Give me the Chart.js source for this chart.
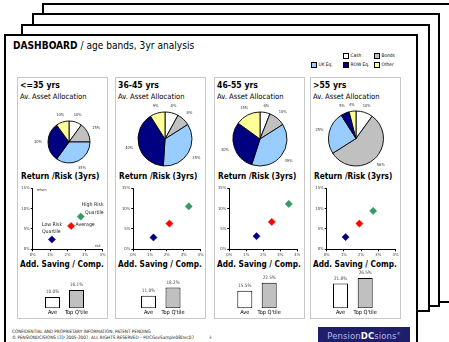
<!DOCTYPE html>
<html>
<head>
<meta charset="utf-8">
<script src="https://cdn.jsdelivr.net/npm/chart.js@4/dist/chart.umd.min.js"></script>
<style>
  html, body { margin: 0; padding: 0; background: #fff; }
  body { width: 449px; height: 342px; overflow: hidden; position: relative;
         font-family: "DejaVu Sans Condensed", "DejaVu Sans", sans-serif; color: #000; }
  .page { position: absolute; background: #fff; border: 2px solid #000; box-sizing: border-box; }
  .panel { position: absolute; border: 1px solid #c8c8c8; box-sizing: border-box; background: #fff; }
  .txt { position: absolute; white-space: nowrap; }
  .lg-box { position: absolute; width: 6px; height: 6px; border: 1px solid #000; box-sizing: border-box; }
  canvas { position: absolute; }
  .logo { position: absolute; left: 318px; top: 327px; width: 92px; height: 20px; background: #1e1e6a;
          color: #b8b8ee; font-family: "DejaVu Sans", sans-serif; font-size: 8.5px; line-height: 14px;
          text-align: center; letter-spacing: 0.1px; }
  .logo b { color: #fff; font-weight: bold; }
  .logo sup { font-size: 4px; }
</style>
</head>
<body>
<script>
// ---- data ----
const ageBands = ['<=35 yrs', '36-45 yrs', '46-55 yrs', '>55 yrs'];
const assetClasses = ['Cash', 'Bonds', 'UK Eq.', 'ROW Eq.', 'Other'];

const allocUpTo35 = [10, 15, 35, 30, 10];
const alloc36to45 = [8, 8, 35, 40, 9];
const alloc46to55 = [6, 10, 39, 30, 15];
const allocOver55 = [10, 56, 25, 5, 4];

const quartiles = ['Low Risk Quartile', 'Average', 'High Risk Quartile'];
const riskUpTo35 = [1.1, 2.2, 2.75];
const returnUpTo35 = [2.4, 5.7, 8.0];
const risk36to45 = [1.2, 2.15, 3.3];
const return36to45 = [2.9, 6.3, 10.5];
const risk46to55 = [1.6, 2.5, 3.5];
const return46to55 = [3.2, 6.7, 11.1];
const riskOver55 = [1.1, 1.9, 2.7];
const returnOver55 = [3.0, 6.3, 9.4];
const riskTicks = [0, 1, 2, 3, 4];
const returnTicks = [0, 5, 10, 15];

const savingCats = ['Ave', "Top Q'tile"];
const savingUpTo35 = [10.0, 16.1];
const saving36to45 = [11.0, 18.2];
const saving46to55 = [15.5, 22.5];
const savingOver55 = [21.8, 26.5];
const savingMax = 30;

// ---- styling ----
const FONT = '"DejaVu Sans Condensed", "DejaVu Sans", sans-serif';
Chart.defaults.font.family = FONT;
const assetColors = ['#ffffff', '#c0c0c0', '#99ccff', '#000080', '#ffff99'];
const quartileColors = ['#000080', '#ff0000', '#339966'];
const savingColors = ['#ffffff', '#c0c0c0'];

const allocations = [allocUpTo35, alloc36to45, alloc46to55, allocOver55];
const risks = [riskUpTo35, risk36to45, risk46to55, riskOver55];
const returns = [returnUpTo35, return36to45, return46to55, returnOver55];
const savings = [savingUpTo35, saving36to45, saving46to55, savingOver55];

// ---- layout ----
const PANEL_LEFT = [17, 115, 214, 310];
const PANEL_W = 91;
const PIE = [
  { cx: 69, cy: 142, r: 21 },
  { cx: 165, cy: 139, r: 27 },
  { cx: 260, cy: 139, r: 27 },
  { cx: 356, cy: 138.5, r: 27.5 }
];
const SCAT = [
  { l: 32.7, r: 102.7 },
  { l: 133.3, r: 200.7 },
  { l: 229.3, r: 297.3 },
  { l: 326.7, r: 396.7 }
];
const SCAT_TOP = 188, SCAT_BOTTOM = 249.3;
const BAR_CENTERS = [[52.5, 76.5], [148.5, 173], [244.8, 269.2], [340.5, 365.2]];
const BAR_TOP = 274.1, BAR_BOTTOM = 308.3, BAR_W = 15;
const LABEL_PLACE = [
  { dx: -10, dy: -15, align: 'left' },
  { dx: 4.5, dy: -1, align: 'left' },
  { dx: 23, dy: -11.7, align: 'right' }
];
const LEGEND_POS = [[343, 53], [374, 53], [311, 62], [343, 62], [374, 62]];

// ---- helpers ----
function el(tag, cls, css, html) {
  const e = document.createElement(tag);
  if (cls) e.className = cls;
  if (css) e.style.cssText = css;
  if (html !== undefined) e.innerHTML = html;
  document.body.appendChild(e);
  return e;
}
function text(str, x, yc, size, extra) {
  const e = el('div', 'txt', `left:${x}px;top:${yc - size * 0.7}px;font-size:${size}px;line-height:${size * 1.4}px;${extra || ''}`);
  e.textContent = str;
  return e;
}
function makeCanvas(x, y, w, h) {
  const c = el('canvas', '', `left:${x}px;top:${y}px;width:${w}px;height:${h}px`);
  c.width = w; c.height = h;
  return c;
}
const zeroPad = s => { s.paddingLeft = 0; s.paddingRight = 0; s.paddingTop = 0; s.paddingBottom = 0; };

// ---- stacked pages ----
el('div', 'page', 'left:42px;top:3px;width:412px;height:300px');
el('div', 'page', 'left:32px;top:13px;width:408px;height:294px');
el('div', 'page', 'left:21px;top:24px;width:409px;height:288px');
el('div', 'page', 'left:4px;top:34px;width:414px;height:330px');

// ---- title ----
const title = el('div', 'txt', 'left:13px;top:40px;font-size:10.1px;line-height:12px;');
title.innerHTML = '<b>DASHBOARD</b> / age bands, 3yr analysis';

// ---- legend ----
assetClasses.forEach((name, k) => {
  const [x, y] = LEGEND_POS[k];
  el('div', 'lg-box', `left:${x}px;top:${y}px;background:${assetColors[k]}`);
  text(name, x + 7.5, y + 3, 4.8);
});

// ---- plugins ----
const pieLabels = {
  id: 'pieLabels',
  afterDatasetsDraw(chart) {
    const ctx = chart.ctx;
    const meta = chart.getDatasetMeta(0);
    const vals = chart.data.datasets[0].data;
    ctx.save();
    ctx.font = `4px ${FONT}`;
    ctx.fillStyle = '#333';
    ctx.textAlign = 'center';
    ctx.textBaseline = 'middle';
    meta.data.forEach((arc, k) => {
      const mid = (arc.startAngle + arc.endAngle) / 2;
      const c = Math.cos(mid), s = Math.sin(mid);
      const d = arc.outerRadius + 6 + 4 * Math.abs(c);
      ctx.fillText(vals[k] + '%', arc.x + c * d, arc.y + s * d);
    });
    ctx.restore();
  }
};

const pointLabels = {
  id: 'pointLabels',
  afterDatasetsDraw(chart) {
    const ctx = chart.ctx;
    ctx.save();
    ctx.font = `5.2px ${FONT}`;
    ctx.fillStyle = '#222';
    ctx.textBaseline = 'middle';
    chart.data.datasets.forEach((ds, j) => {
      const pt = chart.getDatasetMeta(j).data[0];
      const p = LABEL_PLACE[j];
      const words = ds.label.split(' ');
      const lines = words.length > 2 ? [words.slice(0, -1).join(' '), words[words.length - 1]] : [ds.label];
      ctx.textAlign = p.align;
      lines.forEach((ln, n) => ctx.fillText(ln, pt.x + p.dx, pt.y + p.dy + n * 7.4));
    });
    // axis notes
    const a = chart.chartArea;
    ctx.font = `3.6px ${FONT}`;
    ctx.fillStyle = '#333';
    ctx.textAlign = 'left';
    ctx.fillText('return', a.left + 4, a.top + 2.5);
    ctx.textAlign = 'right';
    ctx.fillText('risk', a.right - 2, a.bottom - 3.5);
    ctx.restore();
  }
};

const barValues = {
  id: 'barValues',
  afterDatasetsDraw(chart) {
    const ctx = chart.ctx;
    const meta = chart.getDatasetMeta(0);
    const vals = chart.data.datasets[0].data;
    ctx.save();
    ctx.font = `4.6px ${FONT}`;
    ctx.fillStyle = '#444';
    ctx.textAlign = 'center';
    ctx.textBaseline = 'middle';
    meta.data.forEach((bar, k) => ctx.fillText(vals[k].toFixed(1) + '%', bar.x, bar.y - 5));
    ctx.restore();
  }
};

// ---- charts ----
function pieChart(i) {
  const g = PIE[i];
  const L = PANEL_LEFT[i] + 1, T = 103, W = PANEL_W - 2, H = 73;
  new Chart(makeCanvas(L, T, W, H), {
    type: 'pie',
    data: {
      labels: assetClasses,
      datasets: [{ data: allocations[i], backgroundColor: assetColors, borderColor: '#000', borderWidth: 0.9, radius: g.r }]
    },
    options: {
      responsive: false, animation: false, events: [],
      layout: { padding: { left: g.cx - g.r - L, right: L + W - g.cx - g.r, top: g.cy - g.r - T, bottom: T + H - g.cy - g.r } },
      plugins: { legend: { display: false }, tooltip: { enabled: false } }
    },
    plugins: [pieLabels]
  });
}

function scatterChart(i) {
  const a = SCAT[i];
  const L = PANEL_LEFT[i] + 1, T = 183, W = PANEL_W - 2, H = 78;
  const axisCommon = {
    grid: { drawOnChartArea: false, tickLength: 2, color: '#000', lineWidth: 1 },
    border: { color: '#000', width: 1 }
  };
  new Chart(makeCanvas(L, T, W, H), {
    type: 'scatter',
    data: {
      datasets: quartiles.map((q, j) => ({
        label: q,
        data: [{ x: risks[i][j], y: returns[i][j] }],
        pointStyle: 'rectRot', pointRadius: 3.6,
        backgroundColor: quartileColors[j], borderColor: quartileColors[j], borderWidth: 0.5
      }))
    },
    options: {
      responsive: false, animation: false, events: [],
      layout: { padding: { left: 0, bottom: 0, top: SCAT_TOP - T, right: L + W - a.r } },
      plugins: { legend: { display: false }, tooltip: { enabled: false } },
      scales: {
        x: Object.assign({
          type: 'linear', min: riskTicks[0], max: riskTicks[riskTicks.length - 1],
          afterBuildTicks: s => { s.ticks = riskTicks.map(v => ({ value: v })); },
          ticks: { callback: v => v + '%', font: { size: 4.2 }, color: '#333', padding: 1, maxRotation: 0, autoSkip: false },
          afterFit: s => { s.height = T + H - SCAT_BOTTOM; zeroPad(s); }
        }, axisCommon),
        y: Object.assign({
          type: 'linear', min: returnTicks[0], max: returnTicks[returnTicks.length - 1],
          afterBuildTicks: s => { s.ticks = returnTicks.map(v => ({ value: v })); },
          ticks: { callback: v => v + '%', font: { size: 4.2 }, color: '#333', padding: 1, autoSkip: false },
          afterFit: s => { s.width = a.l - L; zeroPad(s); }
        }, axisCommon)
      }
    },
    plugins: i === 0 ? [pointLabels] : []
  });
}

function savingChart(i) {
  const [c1, c2] = BAR_CENTERS[i];
  const step = c2 - c1;
  const aL = c1 - step / 2, aR = c2 + step / 2;
  const L = PANEL_LEFT[i] + 1, T = 266, W = PANEL_W - 2, H = 52;
  new Chart(makeCanvas(L, T, W, H), {
    type: 'bar',
    data: {
      labels: savingCats,
      datasets: [{
        data: savings[i], backgroundColor: savingColors, borderColor: '#000', borderWidth: 1,
        borderSkipped: false, barPercentage: BAR_W / step, categoryPercentage: 1
      }]
    },
    options: {
      responsive: false, animation: false, events: [],
      layout: { padding: { left: aL - L, right: L + W - aR, top: BAR_TOP - T, bottom: 0 } },
      plugins: { legend: { display: false }, tooltip: { enabled: false } },
      scales: {
        x: {
          grid: { display: false, drawTicks: false }, border: { display: false },
          ticks: { font: { size: 5.6 }, color: '#000', padding: 1.2, maxRotation: 0, autoSkip: false },
          afterFit: s => { s.height = T + H - BAR_BOTTOM; zeroPad(s); }
        },
        y: { display: false, min: 0, max: savingMax }
      }
    },
    plugins: [barValues]
  });
}

// ---- panels ----
ageBands.forEach((band, i) => {
  const x = PANEL_LEFT[i];
  el('div', 'panel', `left:${x}px;top:77px;width:${PANEL_W}px;height:242px`);
  text(band, x + 3, 85, 8.6, 'font-weight:bold');
  text('Av. Asset Allocation', x + 3, 97.5, 7.6);
  text('Return /Risk (3yrs)', x + 4, 177, 8.2, 'font-weight:bold');
  text('Add. Saving / Comp.', x + 3, 265, 8.2, 'font-weight:bold');
  pieChart(i);
  scatterChart(i);
  savingChart(i);
});

// ---- footer ----
text('CONFIDENTIAL AND PROPRIETARY INFORMATION, PATENT PENDING', 12, 332.7, 4.6, 'color:#222');
text('\u00A9 PENSIONDCISIONS LTD 2005-2007, ALL RIGHTS RESERVED \u2013 PDCGovSample08Dec07', 12, 338.5, 4.6, 'color:#222');
text('3', 209, 338.5, 4.4, 'color:#555');
el('div', 'logo', '', 'Pension<b>DC</b>sions<sup>\u00AE</sup>');
</script>
</body>
</html>
